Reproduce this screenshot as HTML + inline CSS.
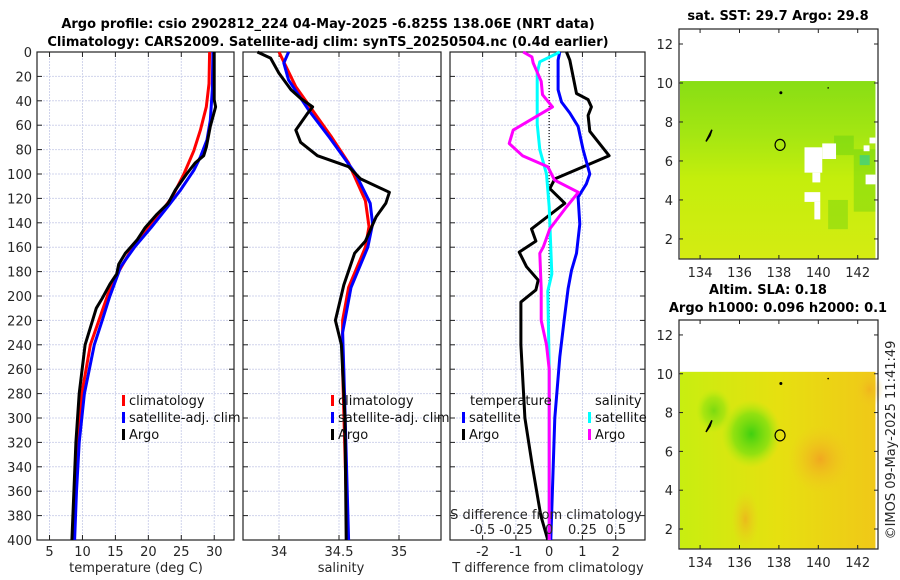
<!DOCTYPE html>
<html><head><meta charset="utf-8">
<style>
html,body{margin:0;padding:0;background:#fff;}
svg{display:block;font-family:"DejaVu Sans","Liberation Sans",sans-serif;}
</style></head>
<body>
<svg id="fig" width="900" height="580" viewBox="0 0 900 580" xmlns="http://www.w3.org/2000/svg">
<defs>
<linearGradient id="sstGrad" x1="0" y1="0" x2="0" y2="1">
<stop offset="0" stop-color="#88de14"/><stop offset="0.3" stop-color="#a4e612"/><stop offset="0.55" stop-color="#c4ee0c"/><stop offset="1" stop-color="#d4ec12"/>
</linearGradient>
<linearGradient id="slaGrad" x1="0" y1="0" x2="1" y2="0">
<stop offset="0" stop-color="#c8ee10"/><stop offset="0.5" stop-color="#e6e010"/><stop offset="1" stop-color="#f0c818"/>
</linearGradient>
<radialGradient id="greenBlob" cx="0.5" cy="0.5" r="0.5">
<stop offset="0" stop-color="#40d010"/><stop offset="0.6" stop-color="#80e010" stop-opacity="0.8"/><stop offset="1" stop-color="#b0ec10" stop-opacity="0"/>
</radialGradient>
<radialGradient id="orangeBlob" cx="0.5" cy="0.5" r="0.5">
<stop offset="0" stop-color="#f0a820"/><stop offset="1" stop-color="#f0c820" stop-opacity="0"/>
</radialGradient>
</defs>
<g id="plots"></g>
</svg>
<script>
// ---------- DATA ----------
const tArgoDepth = [0,39,45,61,78,85,91,100,113,124,133,144,154,165,174,182,190,202,210,240,280,320,360,400];
const tArgo      = [30.0,30.0,30.2,29.4,28.8,28.4,27.1,25.8,24.1,23.0,21.3,19.5,18.3,16.5,15.5,15.2,14.2,13.0,12.1,10.4,9.5,9.0,8.7,8.4];
const tClimDepth = [0,26,45,64,81,100,119,135,152,165,179,198,220,240,280,320,360,400];
const tClim      = [29.3,29.2,28.8,27.9,26.9,25.4,23.6,21.4,18.8,17.1,15.6,13.9,12.5,11.2,9.9,9.3,8.9,8.6];
const tSatDepth  = [0,31,56,72,86,97,113,127,144,160,176,201,220,240,280,320,360,400];
const tSat       = [29.8,29.7,29.4,28.9,27.9,26.9,24.9,22.9,20.4,17.9,15.8,14.1,13.0,11.8,10.3,9.5,9.1,8.8];
const sArgoDepth = [0,5,17.5,31,38,45,50,64,74,85,94,104,115,124,135,155,165,191,220,240,300,400];
const sArgo      = [33.82,33.93,34.0,34.1,34.18,34.28,34.24,34.14,34.18,34.32,34.58,34.68,34.92,34.89,34.81,34.72,34.63,34.54,34.47,34.52,34.55,34.56];
const sClimDepth = [0,28.5,70,91,122,143,160,193,220,260,400];
const sClim      = [34.0,34.14,34.44,34.58,34.72,34.75,34.72,34.58,34.53,34.53,34.57];
const sSatDepth  = [0,9,23,48,70,100,124,141,160,193,230,260,400];
const sSat       = [34.08,34.04,34.08,34.25,34.42,34.64,34.76,34.78,34.74,34.6,34.53,34.54,34.58];
const dTArgoDepth = [0,6.6,34,39,45,52,65,85,104,112,124,145,155,164,176,187,195,205,240,300,340,380,400];
const dTArgo      = [0.52,0.62,0.82,1.17,1.27,1.17,1.22,1.8,0.17,0.02,0.47,-0.53,-0.4,-0.9,-0.68,-0.33,-0.4,-0.85,-0.85,-0.73,-0.5,-0.25,-0.04];
const dTSatDepth  = [0,6.6,31,41,50,61,80,100,108,119,141,165,179,194,220,250,300,400];
const dTSat       = [0.32,0.27,0.27,0.37,0.62,0.87,1.02,1.22,1.12,0.87,0.92,0.82,0.67,0.57,0.45,0.32,0.17,0.05];
const dSSatDepth  = [0,8,17.5,59,80,100,127,182,196,260,400];
const dSSat       = [0.08,-0.07,-0.09,-0.09,-0.07,-0.02,0.0,0.02,-0.01,0.0,0.0];
const dSArgoDepth = [0,4,9,24,35,45,64,75,85,94,105,115,127,145,160,165,194,220,240,260,400];
const dSArgo      = [-0.195,-0.13,-0.12,-0.06,-0.05,0.025,-0.27,-0.3,-0.2,-0.01,0.04,0.22,0.13,0.005,-0.045,-0.07,-0.06,-0.06,-0.02,0,0];
const depthTicks = [0,20,40,60,80,100,120,140,160,180,200,220,240,260,280,300,320,340,360,380,400];
const tempTicks = [5,10,15,20,25,30];
const salTicks = [34,34.5,35];
const dTTicks = [-2,-1,0,1,2];
const dSTicks = [-0.5,-0.25,0,0.25,0.5];
const lonTicks = [134,136,138,140,142];
const latTicks = [2,4,6,8,10,12];

// ---------- HELPERS ----------
const NS = "http://www.w3.org/2000/svg";
const root = document.getElementById('plots');
function el(tag, attrs, parent){ const e=document.createElementNS(NS,tag); for(const k in attrs) e.setAttribute(k,attrs[k]); (parent||root).appendChild(e); return e; }
function txt(x,y,s,attrs,parent){ const e=el('text',Object.assign({x:x,y:y,'font-size':13,fill:'#262626'},attrs||{}),parent); e.textContent=s; return e; }

const Y0=52, Y1=540;
const yD = d => Y0 + d/400*(Y1-Y0);
const P1={x0:37,x1:234,v0:3.1,v1:33.0};
const P2={x0:243,x1:441,v0:33.7,v1:35.35};
const P3={x0:450,x1:645,v0:-2.98,v1:2.88};
const ax = (P,v) => P.x0 + (v-P.v0)/(P.v1-P.v0)*(P.x1-P.x0);

function panelFrame(P, xt, name){
  const g = el('g',{});
  
  
  depthTicks.forEach(d=>{ const gl=el('line',{x1:P.x0,x2:P.x1,y1:yD(d),y2:yD(d),stroke:'#d0d4ec','stroke-width':1,'stroke-dasharray':'2,1'},g);
     
    el('line',{x1:P.x0,x2:P.x0+5,y1:yD(d),y2:yD(d),stroke:'#222'},g); el('line',{x1:P.x1-5,x2:P.x1,y1:yD(d),y2:yD(d),stroke:'#222'},g); });
  xt.forEach(v=>{ const x=ax(P,v); const gl=el('line',{x1:x,x2:x,y1:Y0,y2:Y1,stroke:'#d0d4ec','stroke-width':1,'stroke-dasharray':'2,1'},g);
     
    el('line',{x1:x,x2:x,y1:Y0,y2:Y0+5,stroke:'#222'},g); el('line',{x1:x,x2:x,y1:Y1-5,y2:Y1,stroke:'#222'},g); });
  const r=el('rect',{x:P.x0,y:Y0,width:P.x1-P.x0,height:Y1-Y0,fill:'none',stroke:'#222','stroke-width':1.2},g);
   
  return g;
}
function line(P, vals, depths, color, name, scale){
  const pts = vals.map((v,i)=> ax(P,v*(scale||1)).toFixed(1)+','+yD(depths[i]).toFixed(1)).join(' ');
  const p = el('polyline',{points:pts,fill:'none',stroke:color,'stroke-width':3,'stroke-linejoin':'round'});
  
  
  return p;
}
function legendItem(x,y,color,label,name){
  const m=el('rect',{x:x,y:y-10,width:3,height:11,fill:color});
   
  const t=txt(x+7,y,label,{'font-size':13,fill:'#111'});
   
}

// ---------- PANEL 1 ----------
panelFrame(P1,tempTicks,'temperature-panel');
depthTicks.forEach(d=>{ const t=txt(P1.x0-5,yD(d)+5,String(d),{'text-anchor':'end'});   });
tempTicks.forEach(v=>{ const t=txt(ax(P1,v),556,String(v),{'text-anchor':'middle'});   });
{const t=txt(136,572,'temperature (deg C)',{'text-anchor':'middle'});  }
line(P1,tClim,tClimDepth,'#ff0000','temperature-climatology-line');
line(P1,tSat,tSatDepth,'#0000ff','temperature-satellite-line');
line(P1,tArgo,tArgoDepth,'#000000','temperature-argo-line');
legendItem(122,405,'#ff0000','climatology','legend-climatology');
legendItem(122,422,'#0000ff','satellite-adj. clim','legend-satellite-adj');
legendItem(122,439,'#000000','Argo','legend-argo');

// ---------- PANEL 2 ----------
panelFrame(P2,salTicks,'salinity-panel');
salTicks.forEach(v=>{ const t=txt(ax(P2,v),556,String(v),{'text-anchor':'middle'});   });
{const t=txt(341,572,'salinity',{'text-anchor':'middle'});  }
line(P2,sClim,sClimDepth,'#ff0000','salinity-climatology-line');
line(P2,sSat,sSatDepth,'#0000ff','salinity-satellite-line');
line(P2,sArgo,sArgoDepth,'#000000','salinity-argo-line');
legendItem(331,405,'#ff0000','climatology','legend-sal-climatology');
legendItem(331,422,'#0000ff','satellite-adj. clim','legend-sal-satellite-adj');
legendItem(331,439,'#000000','Argo','legend-sal-argo');

// ---------- PANEL 3 ----------
panelFrame(P3,dTTicks,'difference-panel');
{const z=el('line',{x1:ax(P3,0),x2:ax(P3,0),y1:Y0,y2:Y1,stroke:'#333','stroke-width':1.5,'stroke-dasharray':'1,2'});  }
line(P3,dTArgo,dTArgoDepth,'#000000','t-diff-argo-line');
line(P3,dTSat,dTSatDepth,'#0000ff','t-diff-satellite-line');
line(P3,dSSat,dSSatDepth,'#00ffff','s-diff-satellite-line',4);
line(P3,dSArgo,dSArgoDepth,'#ff00ff','s-diff-argo-line',4);
dTTicks.forEach(v=>{ const t=txt(ax(P3,v),556,String(v),{'text-anchor':'middle'});   });
{const t=txt(548,572,'T difference from climatology',{'text-anchor':'middle'});  }
dSTicks.forEach(v=>{ const t=txt(ax(P3,v*4),534,String(v),{'text-anchor':'middle'});   });
{const t=txt(546,519,'S difference from climatology',{'text-anchor':'middle'});  }
{const t=txt(470,405,'temperature',{'font-size':13,fill:'#111'});  }
legendItem(462,422,'#0000ff','satellite','legend-t-satellite');
legendItem(462,439,'#000000','Argo','legend-t-argo');
{const t=txt(595,405,'salinity',{'font-size':13,fill:'#111'});  }
legendItem(588,422,'#00ffff','satellite','legend-s-satellite');
legendItem(588,439,'#ff00ff','Argo','legend-s-argo');

// ---------- TITLES ----------
{const t=txt(328,28,'Argo profile: csio 2902812_224 04-May-2025 -6.825S 138.06E (NRT data)',{'text-anchor':'middle','font-weight':'bold','fill':'#000'});  }
{const t=txt(328,46,'Climatology: CARS2009. Satellite-adj clim: synTS_20250504.nc (0.4d earlier)',{'text-anchor':'middle','font-weight':'bold','fill':'#000'});  }

// ---------- MAPS ----------
const MX0=679, MX1=878, LON0=132.93, LON1=143.03;
const mx = lon => MX0 + (lon-LON0)/(LON1-LON0)*(MX1-MX0);
function mapFrame(top,bot,lat0,lat1,name,fillId,extra){
  const my = lat => bot - (lat-lat0)/(lat1-lat0)*(bot-top);
  const g=el('g',{});
  
  
  const f=el('rect',{x:MX0+1,y:my(10.1),width:mx(142.9)-MX0-1,height:my(1.0)-my(10.1),fill:'url(#'+fillId+')'},g);
   
  extra(g,my);
  const c=el('ellipse',{cx:mx(138.06),cy:my(6.825),rx:5,ry:5.5,fill:'none',stroke:'#000','stroke-width':1.2},g);
   
  el('path',{d:`M${mx(134.3)} ${my(7.0)} L${mx(134.6)} ${my(7.6)} L${mx(134.5)} ${my(7.3)} Z`,stroke:'#000','stroke-width':1.5,fill:'none'},g);
  el('circle',{cx:mx(138.1),cy:my(9.5),r:1.5,fill:'#000'},g);
  el('circle',{cx:mx(140.5),cy:my(9.75),r:0.8,fill:'#000'},g);
  const b=el('rect',{x:MX0,y:top,width:MX1-MX0,height:bot-top,fill:'none',stroke:'#222','stroke-width':1.2},g);
   
  latTicks.forEach(v=>{ const y=my(v); el('line',{x1:MX0,x2:MX0+4,y1:y,y2:y,stroke:'#222'},g); el('line',{x1:MX1-4,x2:MX1,y1:y,y2:y,stroke:'#222'},g);
    const t=txt(MX0-6,y+5,String(v),{'text-anchor':'end'},g);   });
  lonTicks.forEach(v=>{ const x=mx(v); el('line',{x1:x,x2:x,y1:top,y2:top+4,stroke:'#222'},g); el('line',{x1:x,x2:x,y1:bot-4,y2:bot,stroke:'#222'},g);
    const t=txt(x,bot+18,String(v),{'text-anchor':'middle'},g);   });
}
mapFrame(29,259,0.97,12.77,'sst-map','sstGrad',(g,my)=>{
  [[140.8,7.3,141.8,6.3],[141.8,6.6,142.9,3.4],[140.5,4.0,141.5,2.5]].forEach(r=>{
    el('rect',{x:mx(r[0]),y:my(r[1]),width:mx(r[2])-mx(r[0]),height:my(r[3])-my(r[1]),fill:'#50cc10',opacity:0.35},g);});
  el('rect',{x:mx(142.1),y:my(6.3),width:10,height:10,fill:'#10c8c0',opacity:0.5},g);
  [[139.3,6.7,140.2,5.4],[140.2,6.9,140.9,6.1],[139.7,5.4,140.1,4.9],[139.3,4.4,140.1,3.9],[139.8,3.9,140.1,3.0],[142.4,5.3,142.9,4.8],[142.3,6.8,142.6,6.5],[142.6,7.2,142.9,6.9]].forEach(r=>{
    el('rect',{x:mx(r[0]),y:my(r[1]),width:mx(r[2])-mx(r[0]),height:my(r[3])-my(r[1]),fill:'#ffffff'},g);});
});
mapFrame(320,549,0.97,12.77,'sla-map','slaGrad',(g,my)=>{
  el('ellipse',{cx:mx(136.6),cy:my(6.9),rx:30,ry:34,fill:'url(#greenBlob)'},g);
  el('ellipse',{cx:mx(134.7),cy:my(8.1),rx:18,ry:22,fill:'url(#greenBlob)',opacity:0.6},g);
  el('ellipse',{cx:mx(140.1),cy:my(5.6),rx:32,ry:34,fill:'url(#orangeBlob)'},g);
  el('ellipse',{cx:mx(136.3),cy:my(2.5),rx:14,ry:30,fill:'url(#orangeBlob)',opacity:0.7},g);
  el('ellipse',{cx:mx(142.6),cy:my(9.2),rx:14,ry:18,fill:'url(#orangeBlob)',opacity:0.6},g);
});
{const t=txt(778,20,'sat. SST: 29.7  Argo: 29.8',{'text-anchor':'middle','font-weight':'bold','fill':'#000'});  }
{const t=txt(768,294,'Altim. SLA: 0.18',{'text-anchor':'middle','font-weight':'bold','fill':'#000'});  }
{const t=txt(778,312,'Argo h1000: 0.096 h2000: 0.1',{'text-anchor':'middle','font-weight':'bold','fill':'#000'});  }
{const t=txt(0,0,'©IMOS 09-May-2025 11:41:49',{'text-anchor':'middle',transform:'translate(895,440) rotate(-90)'});  }
</script>
</body></html>
